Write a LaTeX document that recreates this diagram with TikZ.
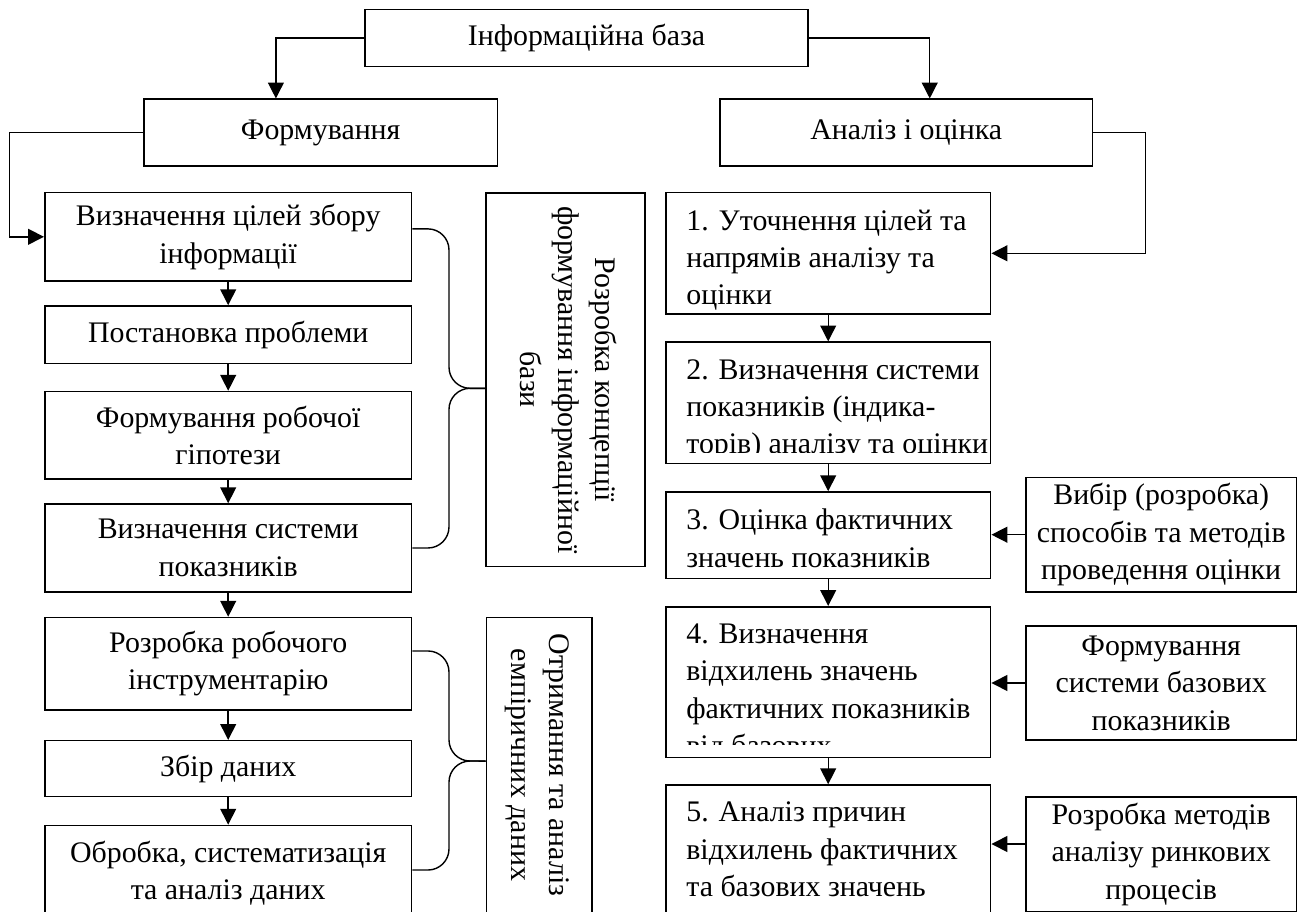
\documentclass[tikz,border=0pt]{standalone}
\usepackage{fontspec}
\setmainfont{Liberation Serif}
\usetikzlibrary{arrows.meta}
\begin{document}
\begin{tikzpicture}[x=0.02cm,y=-0.02cm,
    every node/.style={font=\fontsize{17}{21.3}\selectfont},
    box/.style={draw, line width=0.9pt, inner sep=0pt},
    ctext/.style={align=center, inner sep=0pt},
    ltext/.style={align=left, anchor=north west, inner sep=0pt},
    arr/.style={-{Triangle[length=9pt,width=9pt]}, line width=0.8pt},
    brace/.style={line width=0.8pt, rounded corners=12pt}]
\clip (0,0) rectangle (1303,912);
% top level
\node[box, ctext, minimum width=8.87cm, minimum height=1.148cm] (info) at (586.5,38) {Інформаційна база};
\node[box, ctext, minimum width=7.07cm, minimum height=1.33cm] (form) at (320.7,132.5) {Формування};
\node[box, ctext, minimum width=7.45cm, minimum height=1.33cm] (anal) at (906.2,132.5) {Аналіз і оцінка};
\draw[arr] (info.west) -| ([xshift=-25.5pt]form.north);
\draw[arr] (info.east) -| ([xshift=13.4pt]anal.north);
% left column
\node[box, ctext, minimum width=7.34cm, minimum height=1.77cm] (l1) at (228.2,236.8) {Визначення цілей збору\\інформації};
\node[box, ctext, minimum width=7.34cm, minimum height=1.15cm] (l2) at (228.2,334.7) {Постановка проблеми};
\node[box, ctext, minimum width=7.34cm, minimum height=1.75cm] (l3) at (228.2,435.3) {Формування робочої\\гіпотези};
\node[box, ctext, minimum width=7.34cm, minimum height=1.76cm] (l4) at (228.2,548) {Визначення системи\\показників};
\node[box, ctext, minimum width=7.34cm, minimum height=1.85cm] (l5) at (228.2,663.8) {Розробка робочого\\інструментарію};
\node[box, ctext, minimum width=7.34cm, minimum height=1.12cm] (l6) at (228.2,768.7) {Збір даних};
\node[box, ctext, minimum width=7.34cm, minimum height=1.91cm] (l7) at (228.2,873.2) {Обробка, систематизація\\та аналіз даних};
\draw[arr] (form.west) -- ++(-133.5,0) |- (l1.west);
\draw[arr] (l1) -- (l2);
\draw[arr] (l2) -- (l3);
\draw[arr] (l3) -- (l4);
\draw[arr] (l4) -- (l5);
\draw[arr] (l5) -- (l6);
\draw[arr] (l6) -- (l7);
% stages
\node[box, minimum width=3.17cm, minimum height=7.48cm] (cA) at (565.5,379.7) {};
\node[ctext, rotate=-90] (cAt) at (568.8,379.7) {Розробка концепції\\формування інформаційної\\бази};
\node[box, minimum width=2.11cm, minimum height=5.93cm] (cB) at (539.1,765.8) {};
\node[ctext, rotate=-90] (cBt) at (537,765) {Отримання та аналіз\\емпіричних даних};
\draw[brace] ([yshift=4.5pt]l1.east) -| (449,388.3) -- ([yshift=-4.9pt]cA.west);
\draw[brace] (l4.east) -| (449,388.3) -- ([yshift=-4.9pt]cA.west);
\draw[brace] ([yshift=7.3pt]l5.east) -| (449,761) -- ([yshift=2.7pt]cB.west);
\draw[brace] ([yshift=1.8pt]l7.east) -| (449,761) -- ([yshift=2.7pt]cB.west);
% right column
\node[box, minimum width=6.5cm, minimum height=2.43cm] (r1) at (828.2,253.3) {};
\node[ltext] (r1t) at ([shift={(12pt,-10pt)}]r1.north west) {1. Уточнення цілей та\\напрямів аналізу та\\оцінки};
\node[box, minimum width=6.5cm, minimum height=2.43cm] (r2) at (828.2,402.9) {};
\begin{scope}
\clip (r2.north west) rectangle ([yshift=7pt]r2.south east);
\node[ltext] (r2t) at ([shift={(12pt,-10pt)}]r2.north west) {2. Визначення системи\\показників (індика-\\торів) аналізу та оцінки};
\end{scope}
\node[box, minimum width=6.5cm, minimum height=1.73cm] (r3) at (828.2,535.2) {};
\node[ltext] (r3t) at ([shift={(12pt,-10pt)}]r3.north west) {3. Оцінка фактичних\\значень показників};
\node[box, minimum width=6.5cm, minimum height=3.02cm] (r4) at (828.2,682.2) {};
\begin{scope}
\clip (r4.north west) rectangle ([yshift=8.2pt]r4.south east);
\node[ltext] (r4t) at ([shift={(12pt,-10pt)}]r4.north west) {4. Визначення\\відхилень значень\\фактичних показників\\від базових};
\end{scope}
\node[box, minimum width=6.5cm, minimum height=2.9cm] (r5) at (828.2,857.5) {};
\node[ltext] (r5t) at ([shift={(12pt,-10pt)}]r5.north west) {5. Аналіз причин\\відхилень фактичних\\та базових значень};
\draw[arr] (anal.east) -- ++(52.5,0) |- (r1.east);
\draw[arr] (r1) -- (r2);
\draw[arr] (r2) -- (r3);
\draw[arr] (r3) -- (r4);
\draw[arr] (r4) -- (r5);
% methods
\node[box, ctext, minimum width=5.41cm, minimum height=2.29cm] (s1) at (1161.2,534.7) {Вибір (розробка)\\способів та методів\\проведення оцінки};
\node[box, ctext, minimum width=5.41cm, minimum height=2.28cm] (s2) at (1161.2,683) {Формування\\системи базових\\показників};
\node[box, ctext, minimum width=5.41cm, minimum height=2.3cm] (s3) at (1161.2,854.2) {Розробка методів\\аналізу ринкових\\процесів};
\draw[arr] (s1.west) -- (s1.west -| r3.east);
\draw[arr] (s2.west) -- (s2.west -| r4.east);
\draw[arr] ([yshift=5.8pt]s3.west) -- ([yshift=5.8pt]s3.west -| r5.east);
\end{tikzpicture}
\end{document}
